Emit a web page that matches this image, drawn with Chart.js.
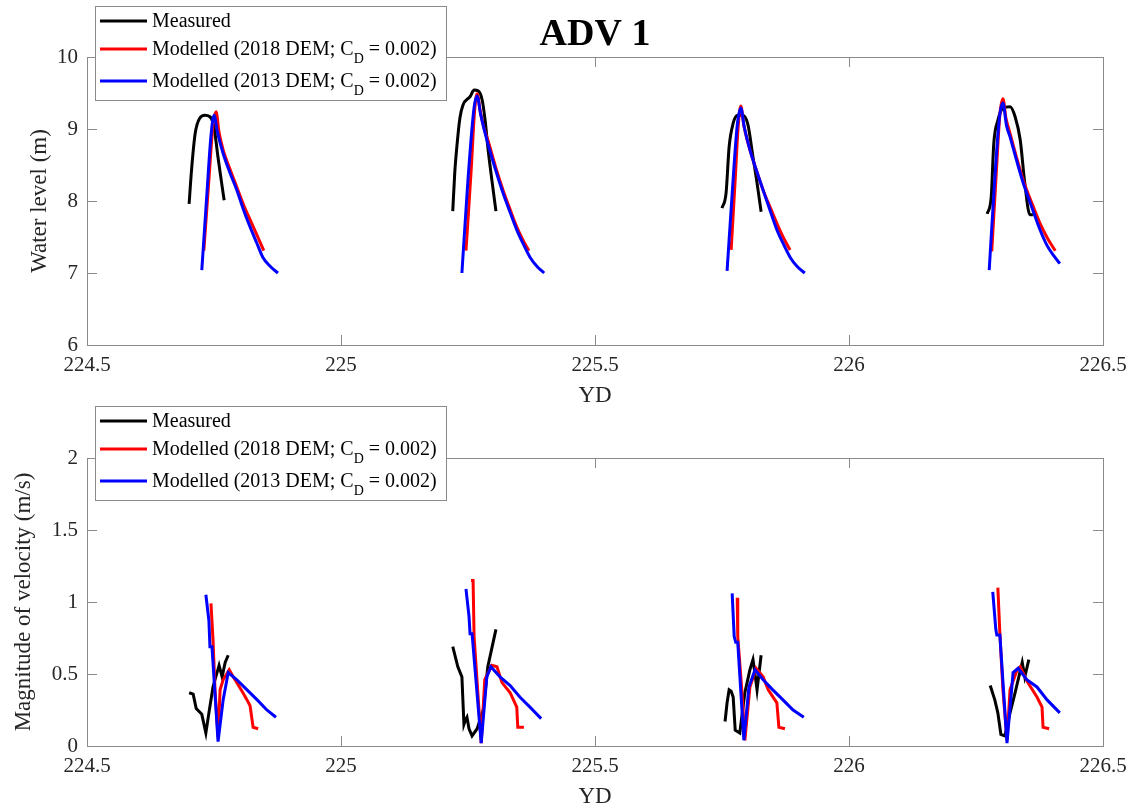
<!DOCTYPE html>
<html>
<head>
<meta charset="utf-8">
<title>ADV 1</title>
<script src="https://cdn.jsdelivr.net/npm/chart.js@4.4.1/dist/chart.umd.min.js"></script>
<style>
  html, body { margin: 0; padding: 0; background: #fff; }
  #wrap { position: relative; width: 1138px; height: 811px; overflow: hidden; }
  canvas { position: absolute; left: 0; }
  #levelChart { top: 0; }
  #speedChart { top: 400px; }
</style>
</head>
<body>
<div id="wrap">
  <canvas id="levelChart" width="1138" height="420"></canvas>
  <canvas id="speedChart" width="1138" height="411"></canvas>
</div>
<script>
// [YD, value] pairs, null = break between tidal cycles
const levelMeasured = [
  [224.701, 7.96], [224.706, 8.45], [224.713, 8.94], [224.722, 9.15], [224.732, 9.19], [224.742, 9.17],
  [224.750, 9.03], [224.758, 8.60], [224.764, 8.30], [224.770, 8.01],
  null,
  [225.220, 7.86], [225.224, 8.40], [225.228, 8.75], [225.234, 9.15], [225.240, 9.33], [225.254, 9.45],
  [225.262, 9.54], [225.270, 9.53], [225.278, 9.40], [225.284, 9.10], [225.289, 8.75], [225.297, 8.29], [225.305, 7.86],
  null,
  [225.750, 7.90], [225.758, 8.11], [225.764, 8.75], [225.772, 9.08], [225.781, 9.19], [225.791, 9.19],
  [225.801, 9.06], [225.811, 8.61], [225.819, 8.25], [225.827, 7.85],
  null,
  [226.272, 7.82], [226.280, 8.06], [226.285, 8.80], [226.293, 9.12], [226.303, 9.29], [226.317, 9.31],
  [226.327, 9.17], [226.337, 8.85], [226.346, 8.25], [226.356, 7.81], [226.362, 7.81]
];

const level2018 = [
  [224.730, 7.31], [224.740, 8.30], [224.748, 9.05], [224.754, 9.24], [224.760, 8.95], [224.768, 8.71],
  [224.781, 8.45], [224.795, 8.19], [224.808, 7.95], [224.821, 7.74], [224.835, 7.52], [224.848, 7.31],
  null,
  [225.246, 7.31], [225.256, 8.40], [225.263, 9.25], [225.268, 9.49], [225.274, 9.25], [225.282, 9.00],
  [225.289, 8.85], [225.304, 8.48], [225.319, 8.15], [225.333, 7.88], [225.346, 7.64], [225.358, 7.46], [225.370, 7.31],
  null,
  [225.768, 7.32], [225.776, 8.30], [225.782, 9.05], [225.787, 9.32], [225.793, 9.05], [225.805, 8.71],
  [225.818, 8.42], [225.831, 8.15], [225.845, 7.91], [225.858, 7.69], [225.871, 7.49], [225.884, 7.32],
  null,
  [226.281, 7.30], [226.290, 8.40], [226.297, 9.20], [226.303, 9.42], [226.309, 9.15], [226.317, 8.94],
  [226.330, 8.60], [226.343, 8.29], [226.360, 7.97], [226.376, 7.69], [226.391, 7.48], [226.406, 7.31]
];

const level2013 = [
  [224.726, 7.04], [224.736, 8.10], [224.744, 8.90], [224.750, 9.19], [224.757, 8.95], [224.768, 8.66],
  [224.781, 8.40], [224.795, 8.15], [224.808, 7.88], [224.821, 7.64], [224.834, 7.42], [224.846, 7.22],
  [224.861, 7.09], [224.876, 7.00],
  null,
  [225.238, 7.00], [225.250, 8.30], [225.262, 9.30], [225.268, 9.46], [225.275, 9.20], [225.289, 8.80],
  [225.304, 8.44], [225.319, 8.11], [225.333, 7.84], [225.346, 7.60], [225.359, 7.40], [225.372, 7.22],
  [225.386, 7.09], [225.400, 7.00],
  null,
  [225.760, 7.03], [225.770, 8.10], [225.780, 9.05], [225.787, 9.29], [225.794, 9.02], [225.805, 8.71],
  [225.818, 8.42], [225.831, 8.15], [225.845, 7.86], [225.858, 7.60], [225.871, 7.40], [225.884, 7.22],
  [225.898, 7.09], [225.913, 7.00],
  null,
  [226.276, 7.04], [226.286, 8.20], [226.296, 9.15], [226.303, 9.36], [226.310, 9.05], [226.317, 8.89],
  [226.330, 8.56], [226.343, 8.25], [226.360, 7.91], [226.376, 7.60], [226.390, 7.38], [226.403, 7.24], [226.415, 7.13]
];

const speedMeasured = [
  [224.701, 0.37], [224.709, 0.36], [224.715, 0.26], [224.726, 0.22], [224.734, 0.09], [224.740, 0.23],
  [224.748, 0.41], [224.760, 0.56], [224.766, 0.48], [224.772, 0.58], [224.778, 0.63],
  null,
  [225.220, 0.69], [225.230, 0.55], [225.238, 0.48], [225.242, 0.15], [225.245, 0.18], [225.248, 0.20],
  [225.252, 0.12], [225.258, 0.07], [225.268, 0.12], [225.280, 0.25], [225.289, 0.55], [225.305, 0.81],
  null,
  [225.756, 0.17], [225.760, 0.30], [225.764, 0.39], [225.768, 0.38], [225.772, 0.34], [225.776, 0.11],
  [225.785, 0.09], [225.795, 0.37], [225.805, 0.53], [225.811, 0.60], [225.815, 0.50], [225.819, 0.39], [225.827, 0.63],
  null,
  [226.278, 0.42], [226.287, 0.32], [226.293, 0.23], [226.299, 0.08], [226.307, 0.07], [226.317, 0.23],
  [226.327, 0.37], [226.341, 0.58], [226.346, 0.48], [226.354, 0.60]
];

const speed2018 = [
  [224.744, 0.99], [224.748, 0.74], [224.752, 0.39], [224.758, 0.06], [224.762, 0.39], [224.768, 0.46],
  [224.780, 0.53], [224.788, 0.48], [224.795, 0.44], [224.807, 0.37], [224.815, 0.32], [224.821, 0.28],
  [224.827, 0.13], [224.837, 0.12],
  null,
  [225.256, 1.15], [225.260, 1.15], [225.262, 0.76], [225.276, 0.02], [225.283, 0.46], [225.297, 0.56],
  [225.307, 0.55], [225.317, 0.44], [225.333, 0.37], [225.346, 0.27], [225.348, 0.13], [225.360, 0.13],
  null,
  [225.780, 1.03], [225.781, 0.76], [225.789, 0.39], [225.795, 0.04], [225.805, 0.41], [225.817, 0.54],
  [225.831, 0.48], [225.841, 0.39], [225.858, 0.30], [225.862, 0.13], [225.874, 0.12],
  null,
  [226.293, 1.10], [226.297, 0.78], [226.303, 0.39], [226.311, 0.04], [226.317, 0.39], [226.331, 0.53],
  [226.337, 0.55], [226.352, 0.44], [226.370, 0.34], [226.380, 0.27], [226.382, 0.13], [226.394, 0.12]
];

const speed2013 = [
  [224.734, 1.05], [224.740, 0.87], [224.742, 0.69], [224.746, 0.69], [224.758, 0.03], [224.768, 0.32],
  [224.778, 0.51], [224.795, 0.46], [224.815, 0.39], [224.835, 0.32], [224.854, 0.25], [224.872, 0.20],
  null,
  [225.246, 1.09], [225.252, 0.90], [225.254, 0.78], [225.258, 0.78], [225.276, 0.02], [225.287, 0.48],
  [225.295, 0.55], [225.313, 0.48], [225.333, 0.42], [225.352, 0.34], [225.372, 0.27], [225.394, 0.19],
  null,
  [225.770, 1.06], [225.774, 0.76], [225.777, 0.72], [225.781, 0.72], [225.793, 0.04], [225.803, 0.41],
  [225.815, 0.53], [225.831, 0.46], [225.850, 0.39], [225.870, 0.32], [225.890, 0.25], [225.911, 0.20],
  null,
  [226.283, 1.07], [226.289, 0.81], [226.291, 0.77], [226.297, 0.77], [226.311, 0.02], [226.323, 0.51],
  [226.333, 0.54], [226.350, 0.46], [226.370, 0.41], [226.390, 0.32], [226.415, 0.23]
];

const ydTicks = [224.5, 225, 225.5, 226, 226.5];
const levelTicks = [6, 7, 8, 9, 10];
const speedTicks = [0, 0.5, 1, 1.5, 2];

// legend entries; "_D" marks the subscript
const seriesNames = ['Measured', 'Modelled (2018 DEM; C_D = 0.002)', 'Modelled (2013 DEM; C_D = 0.002)'];
const seriesColors = ['#000000', '#ff0000', '#0000ff'];

const FONT = '"Liberation Serif", "Times New Roman", serif';
const AXIS_GRAY = '#8a8a8a';
const TEXT_DARK = '#262626';

// turn pairs into {x, y}; a null entry becomes a gap point
function toPoints(pairs) {
  const out = [];
  let lastX = 0;
  pairs.forEach(p => {
    if (p === null) {
      out.push({ x: lastX + 0.001, y: null });
    } else {
      out.push({ x: p[0], y: p[1] });
      lastX = p[0];
    }
  });
  return out;
}

function drawLegend(ctx, left, top) {
  const w = 351, h = 94;
  const rows = [15, 43, 75];
  ctx.fillStyle = '#ffffff';
  ctx.fillRect(left, top, w, h);
  ctx.strokeStyle = AXIS_GRAY;
  ctx.lineWidth = 1;
  ctx.strokeRect(left + 0.5, top + 0.5, w, h);

  seriesNames.forEach((name, i) => {
    const y = top + rows[i];
    ctx.strokeStyle = seriesColors[i];
    ctx.lineWidth = 3;
    ctx.beginPath();
    ctx.moveTo(left + 5, y);
    ctx.lineTo(left + 52, y);
    ctx.stroke();

    ctx.fillStyle = '#000000';
    ctx.textAlign = 'left';
    ctx.textBaseline = 'alphabetic';
    let x = left + 57;
    const base = y + 6;
    const parts = name.split('_');
    ctx.font = '20px ' + FONT;
    ctx.fillText(parts[0], x, base);
    if (parts.length > 1) {
      x += ctx.measureText(parts[0]).width;
      const sub = parts[1].charAt(0);
      const rest = parts[1].slice(1);
      ctx.font = '14px ' + FONT;
      ctx.fillText(sub, x, base + 8);
      x += ctx.measureText(sub).width;
      ctx.font = '20px ' + FONT;
      ctx.fillText(rest, x, base);
    }
  });
}

// box round the axes, inward ticks on all four sides, legend and title
const matlabBox = {
  id: 'matlabBox',
  afterDraw(chart, args, opts) {
    const { ctx, chartArea: a, scales } = chart;
    const tl = 10;
    ctx.save();
    ctx.strokeStyle = AXIS_GRAY;
    ctx.lineWidth = 1;
    ctx.strokeRect(a.left + 0.5, a.top + 0.5, a.right - a.left, a.bottom - a.top);
    ctx.beginPath();
    scales.x.ticks.forEach(t => {
      const px = Math.round(scales.x.getPixelForValue(t.value)) + 0.5;
      ctx.moveTo(px, a.bottom);
      ctx.lineTo(px, a.bottom - tl);
      ctx.moveTo(px, a.top);
      ctx.lineTo(px, a.top + tl);
    });
    scales.y.ticks.forEach(t => {
      const py = Math.round(scales.y.getPixelForValue(t.value)) + 0.5;
      ctx.moveTo(a.left, py);
      ctx.lineTo(a.left + tl, py);
      ctx.moveTo(a.right, py);
      ctx.lineTo(a.right - tl, py);
    });
    ctx.stroke();

    drawLegend(ctx, 95, opts.legendTop);

    if (opts.title) {
      ctx.fillStyle = '#000000';
      ctx.font = 'bold 38px ' + FONT;
      ctx.textAlign = 'center';
      ctx.textBaseline = 'alphabetic';
      ctx.fillText(opts.title, (a.left + a.right) / 2, 45);
    }
    ctx.restore();
  }
};

function makeDatasets(measured, m2018, m2013, smooth) {
  const sets = [measured, m2018, m2013];
  return sets.map((s, i) => ({
    label: seriesNames[i],
    data: toPoints(s),
    borderColor: seriesColors[i],
    borderWidth: 3,
    pointRadius: 0,
    spanGaps: false,
    cubicInterpolationMode: smooth ? 'monotone' : 'default',
    tension: 0,
    order: 2 - i
  }));
}

function makeChart(el, cfg) {
  return new Chart(el, {
    type: 'line',
    data: { datasets: makeDatasets(cfg.measured, cfg.m2018, cfg.m2013, cfg.smooth) },
    options: {
      responsive: false,
      animation: false,
      devicePixelRatio: 1,
      layout: { padding: { top: cfg.padTop, right: 35, bottom: cfg.padBottom, left: 0 } },
      plugins: {
        legend: { display: false },
        tooltip: { enabled: false },
        matlabBox: { legendTop: 6, title: cfg.title }
      },
      scales: {
        x: {
          type: 'linear',
          min: 224.5,
          max: 226.5,
          afterBuildTicks: s => { s.ticks = ydTicks.map(v => ({ value: v })); },
          afterFit: s => { s.height = 65; s.paddingLeft = 0; s.paddingRight = 0; },
          grid: { display: false, drawTicks: false },
          border: { display: false },
          ticks: {
            padding: 8,
            color: TEXT_DARK,
            font: { family: FONT, size: 21 },
            maxRotation: 0,
            autoSkip: false,
            callback: v => String(v)
          },
          title: {
            display: true,
            text: 'YD',
            color: TEXT_DARK,
            font: { family: FONT, size: 23 },
            padding: { top: 0, bottom: 0 }
          }
        },
        y: {
          type: 'linear',
          min: cfg.yTicks[0],
          max: cfg.yTicks[cfg.yTicks.length - 1],
          afterBuildTicks: s => { s.ticks = cfg.yTicks.map(v => ({ value: v })); },
          afterFit: s => { s.width = 87; s.paddingTop = 0; s.paddingBottom = 0; },
          grid: { display: false, drawTicks: false },
          border: { display: false },
          ticks: {
            padding: 9,
            color: TEXT_DARK,
            font: { family: FONT, size: 21 },
            autoSkip: false,
            callback: v => String(v)
          },
          title: {
            display: true,
            text: cfg.yTitle,
            color: TEXT_DARK,
            font: { family: FONT, size: 23 },
            padding: { top: cfg.yTitlePad, bottom: 0 }
          }
        }
      }
    },
    plugins: [matlabBox]
  });
}

makeChart(document.getElementById('levelChart'), {
  measured: levelMeasured, m2018: level2018, m2013: level2013, smooth: true,
  yTicks: levelTicks, yTitle: 'Water level (m)', yTitlePad: 26,
  padTop: 57, padBottom: 10, title: 'ADV 1'
});

makeChart(document.getElementById('speedChart'), {
  measured: speedMeasured, m2018: speed2018, m2013: speed2013, smooth: false,
  yTicks: speedTicks, yTitle: 'Magnitude of velocity (m/s)', yTitlePad: 10,
  padTop: 58, padBottom: 0, title: null
});
</script>
</body>
</html>
